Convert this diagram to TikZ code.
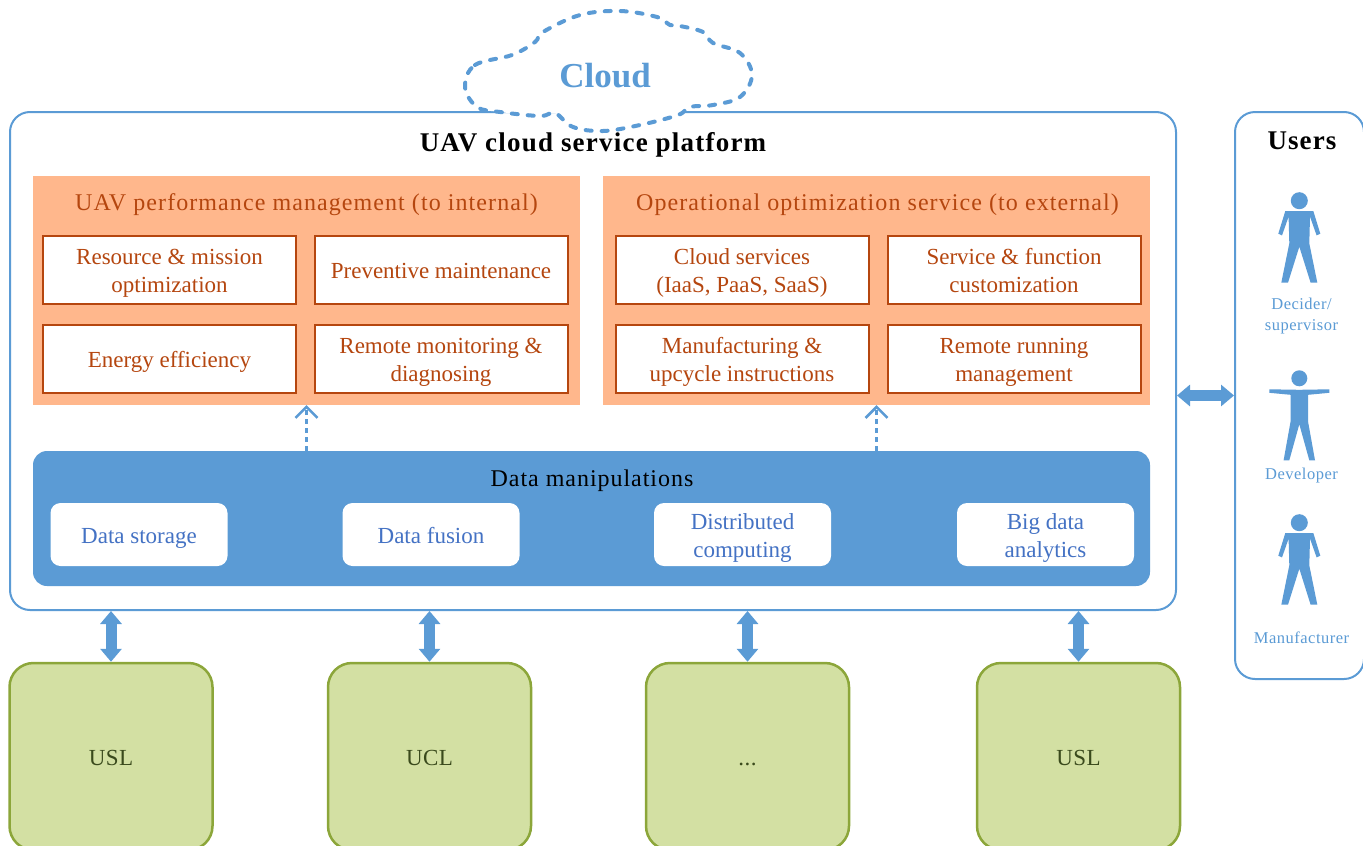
\documentclass[tikz,border=0pt]{standalone}
\usepackage{fontspec}
\setmainfont{Liberation Serif}
\usetikzlibrary{arrows.meta}
\definecolor{skyblue}{HTML}{5B9BD5}
\definecolor{peach}{HTML}{FFB78C}
\definecolor{rust}{HTML}{B5460F}
\definecolor{moss}{HTML}{D3E0A3}
\definecolor{mossline}{HTML}{8CA63A}
\definecolor{mosstext}{HTML}{3A4A1C}
\definecolor{inkblue}{HTML}{4472C4}
\newcommand\sizetext[1]{\fontsize{#1}{28}\selectfont}
\newcommand\spaced[1]{\addfontfeatures{LetterSpace=#1}}
\newcommand\topstrut{\rule[-7pt]{0pt}{31pt}}
\tikzset{>=latex}
\tikzset{
    struts/.style = {execute at begin node=\topstrut,execute at end node=\topstrut},
    twolines/.style = {execute at begin node={\rule{0pt}{52pt}}},
    platform/.style = {draw=skyblue,line width=2pt,fill=white,rounded corners=20pt,inner sep=0pt},
    panel/.style = {fill=peach,minimum width=547pt,minimum height=229pt,inner sep=0pt},
    paneltitle/.style = {struts,font=\sizetext{24}\spaced{4.5},text=rust,inner sep=0pt},
    service/.style = {struts,draw=rust,line width=2pt,fill=white,minimum width=253pt,minimum height=68pt,inner sep=0pt,align=center,font=\sizetext{23},text=rust},
    datapanel/.style = {fill=skyblue,rounded corners=14pt,minimum width=1117pt,minimum height=135pt,inner sep=0pt},
    datatool/.style = {struts,fill=white,rounded corners=10pt,minimum width=177pt,minimum height=63pt,inner sep=0pt,align=center,font=\sizetext{23},text=inkblue},
    vehicle/.style = {struts,draw=mossline,line width=2.5pt,fill=moss,rounded corners=24pt,minimum width=203pt,minimum height=187pt,inner sep=0pt,font=\sizetext{23}\spaced{2},text=mosstext},
    username/.style = {font=\fontsize{16.5}{21}\selectfont\spaced{3},text=skyblue,align=center,inner sep=0pt},
    blockarrow/.style = {{Triangle[width=21pt,length=13pt]}-{Triangle[width=21pt,length=13pt]},line width=11pt,draw=skyblue},
    dataflow/.style = {-{Straight Barb[width=22pt,length=11pt,line width=2.5pt]},dash pattern=on 5pt off 4pt,line width=2.5pt,draw=skyblue},
    standing/.pic = {
        \fill[skyblue] (0,0) circle (8.5);
        \fill[skyblue] (-14,10.3) -- (14,10.3) -- (21,33) -- (17.3,34.7) -- (10.7,16) -- (10,42.7) -- (18,82) -- (11.3,82) -- (0,46) -- (-11.3,82) -- (-18,82) -- (-10,42.7) -- (-10.7,16) -- (-17.3,34.7) -- (-21,33) -- cycle;
    },
    spread/.pic = {
        \fill[skyblue] (0,0) circle (8);
        \fill[skyblue] (-30,11) -- (0,11.5) -- (30,11) -- (30,14.5) -- (8.7,16.5) -- (8.7,43) -- (15.7,82) -- (10,82) -- (0,46) -- (-10,82) -- (-15.7,82) -- (-8.7,43) -- (-8.7,16.5) -- (-30,14.5) -- cycle;
    },
}
\begin{document}
\begin{tikzpicture}[x=1pt,y=-1pt]
    \useasboundingbox (0,0) rectangle (1363,846);
    % platform
    \node[platform,minimum width=1166pt,minimum height=498pt] (platform) at (593,361) {};
    \draw[skyblue,fill=white,line width=4pt,dash pattern=on 6pt off 10pt,line cap=round] plot[smooth cycle,tension=0.6] coordinates {(465,87) (475,65) (512,55) (535,42) (543,32) (580,15) (620,11) (657,17) (670,25) (680,26) (703,32) (713,43) (740,53) (752,75) (740,97) (713,105) (690,107) (678,115) (640,125) (603,131) (573,127) (555,113) (540,116) (500,112) (477,107)};
    \node[font=\sizetext{35}\bfseries,text=skyblue,inner sep=0pt] (cloud) at (605,76) {Cloud};
    \node[struts,font=\sizetext{27}\bfseries\spaced{4.5},inner sep=0pt] (platformtitle) at (593,143) {UAV cloud service platform};
    % panels
    \node[panel] (mgmt) at (306.5,290.5) {};
    \node[panel] (ops) at (876.5,290.5) {};
    \node[paneltitle] (mgmttitle) at (306.5,202) {UAV performance management (to internal)};
    \node[paneltitle] (opstitle) at (877.5,202) {Operational optimization service (to external)};
    \node[service,twolines] (resource) at (169.5,270) {Resource \& mission\\optimization};
    \node[service] (preventive) at (441,270) {Preventive maintenance};
    \node[service] (energy) at (169.5,359) {Energy efficiency};
    \node[service,twolines] (monitoring) at (441,359) {Remote monitoring \&\\diagnosing};
    \node[service,twolines] (services) at (742,270) {Cloud services\\(IaaS, PaaS, SaaS)};
    \node[service,twolines] (custom) at (1014,270) {Service \& function\\customization};
    \node[service,twolines] (upcycle) at (742,359) {Manufacturing \&\\upcycle instructions};
    \node[service,twolines] (running) at (1014,359) {Remote running\\management};
    % data
    \node[datapanel] (data) at (591.5,518.5) {};
    \node[struts,font=\sizetext{24}\spaced{4},inner sep=0pt] (datatitle) at (592,478) {Data manipulations};
    \node[datatool] (storage) at (139,534.5) {Data storage};
    \node[datatool] (fusion) at (431,534.5) {Data fusion};
    \node[datatool,twolines] (computing) at (742.5,534.5) {Distributed\\computing};
    \node[datatool,twolines] (analytics) at (1045.5,534.5) {Big data\\analytics};
    \draw[dataflow] (data.north -| mgmt.south) -- (mgmt.south);
    \draw[dataflow] (data.north -| ops.south) -- (ops.south);
    % vehicles
    \node[vehicle] (usla) at (111,756.5) {USL};
    \node[vehicle] (ucl) at (429.5,756.5) {UCL};
    \node[vehicle] (more) at (747.5,756.5) {...};
    \node[vehicle] (uslb) at (1078.5,756.5) {USL};
    \draw[blockarrow] (usla.north) -- (usla.north |- platform.south);
    \draw[blockarrow] (ucl.north) -- (ucl.north |- platform.south);
    \draw[blockarrow] (more.north) -- (more.north |- platform.south);
    \draw[blockarrow] (uslb.north) -- (uslb.north |- platform.south);
    % users
    \node[platform,minimum width=129pt,minimum height=567pt] (users) at (1299.5,395.5) {};
    \node[font=\sizetext{27}\bfseries\spaced{4},inner sep=0pt] (userstitle) at (1302,141) {Users};
    \pic at (1299.3,200.7) {standing};
    \node[username] (decider) at (1301.5,316.5) {Decider/\\supervisor};
    \pic at (1299.3,378.3) {spread};
    \node[username] (developer) at (1301.5,475.5) {Developer};
    \pic at (1299.3,522.7) {standing};
    \node[username] (manufacturer) at (1301.5,638) {Manufacturer};
    \draw[blockarrow] (users.west) -- (users.west -| platform.east);
\end{tikzpicture}
\end{document}
